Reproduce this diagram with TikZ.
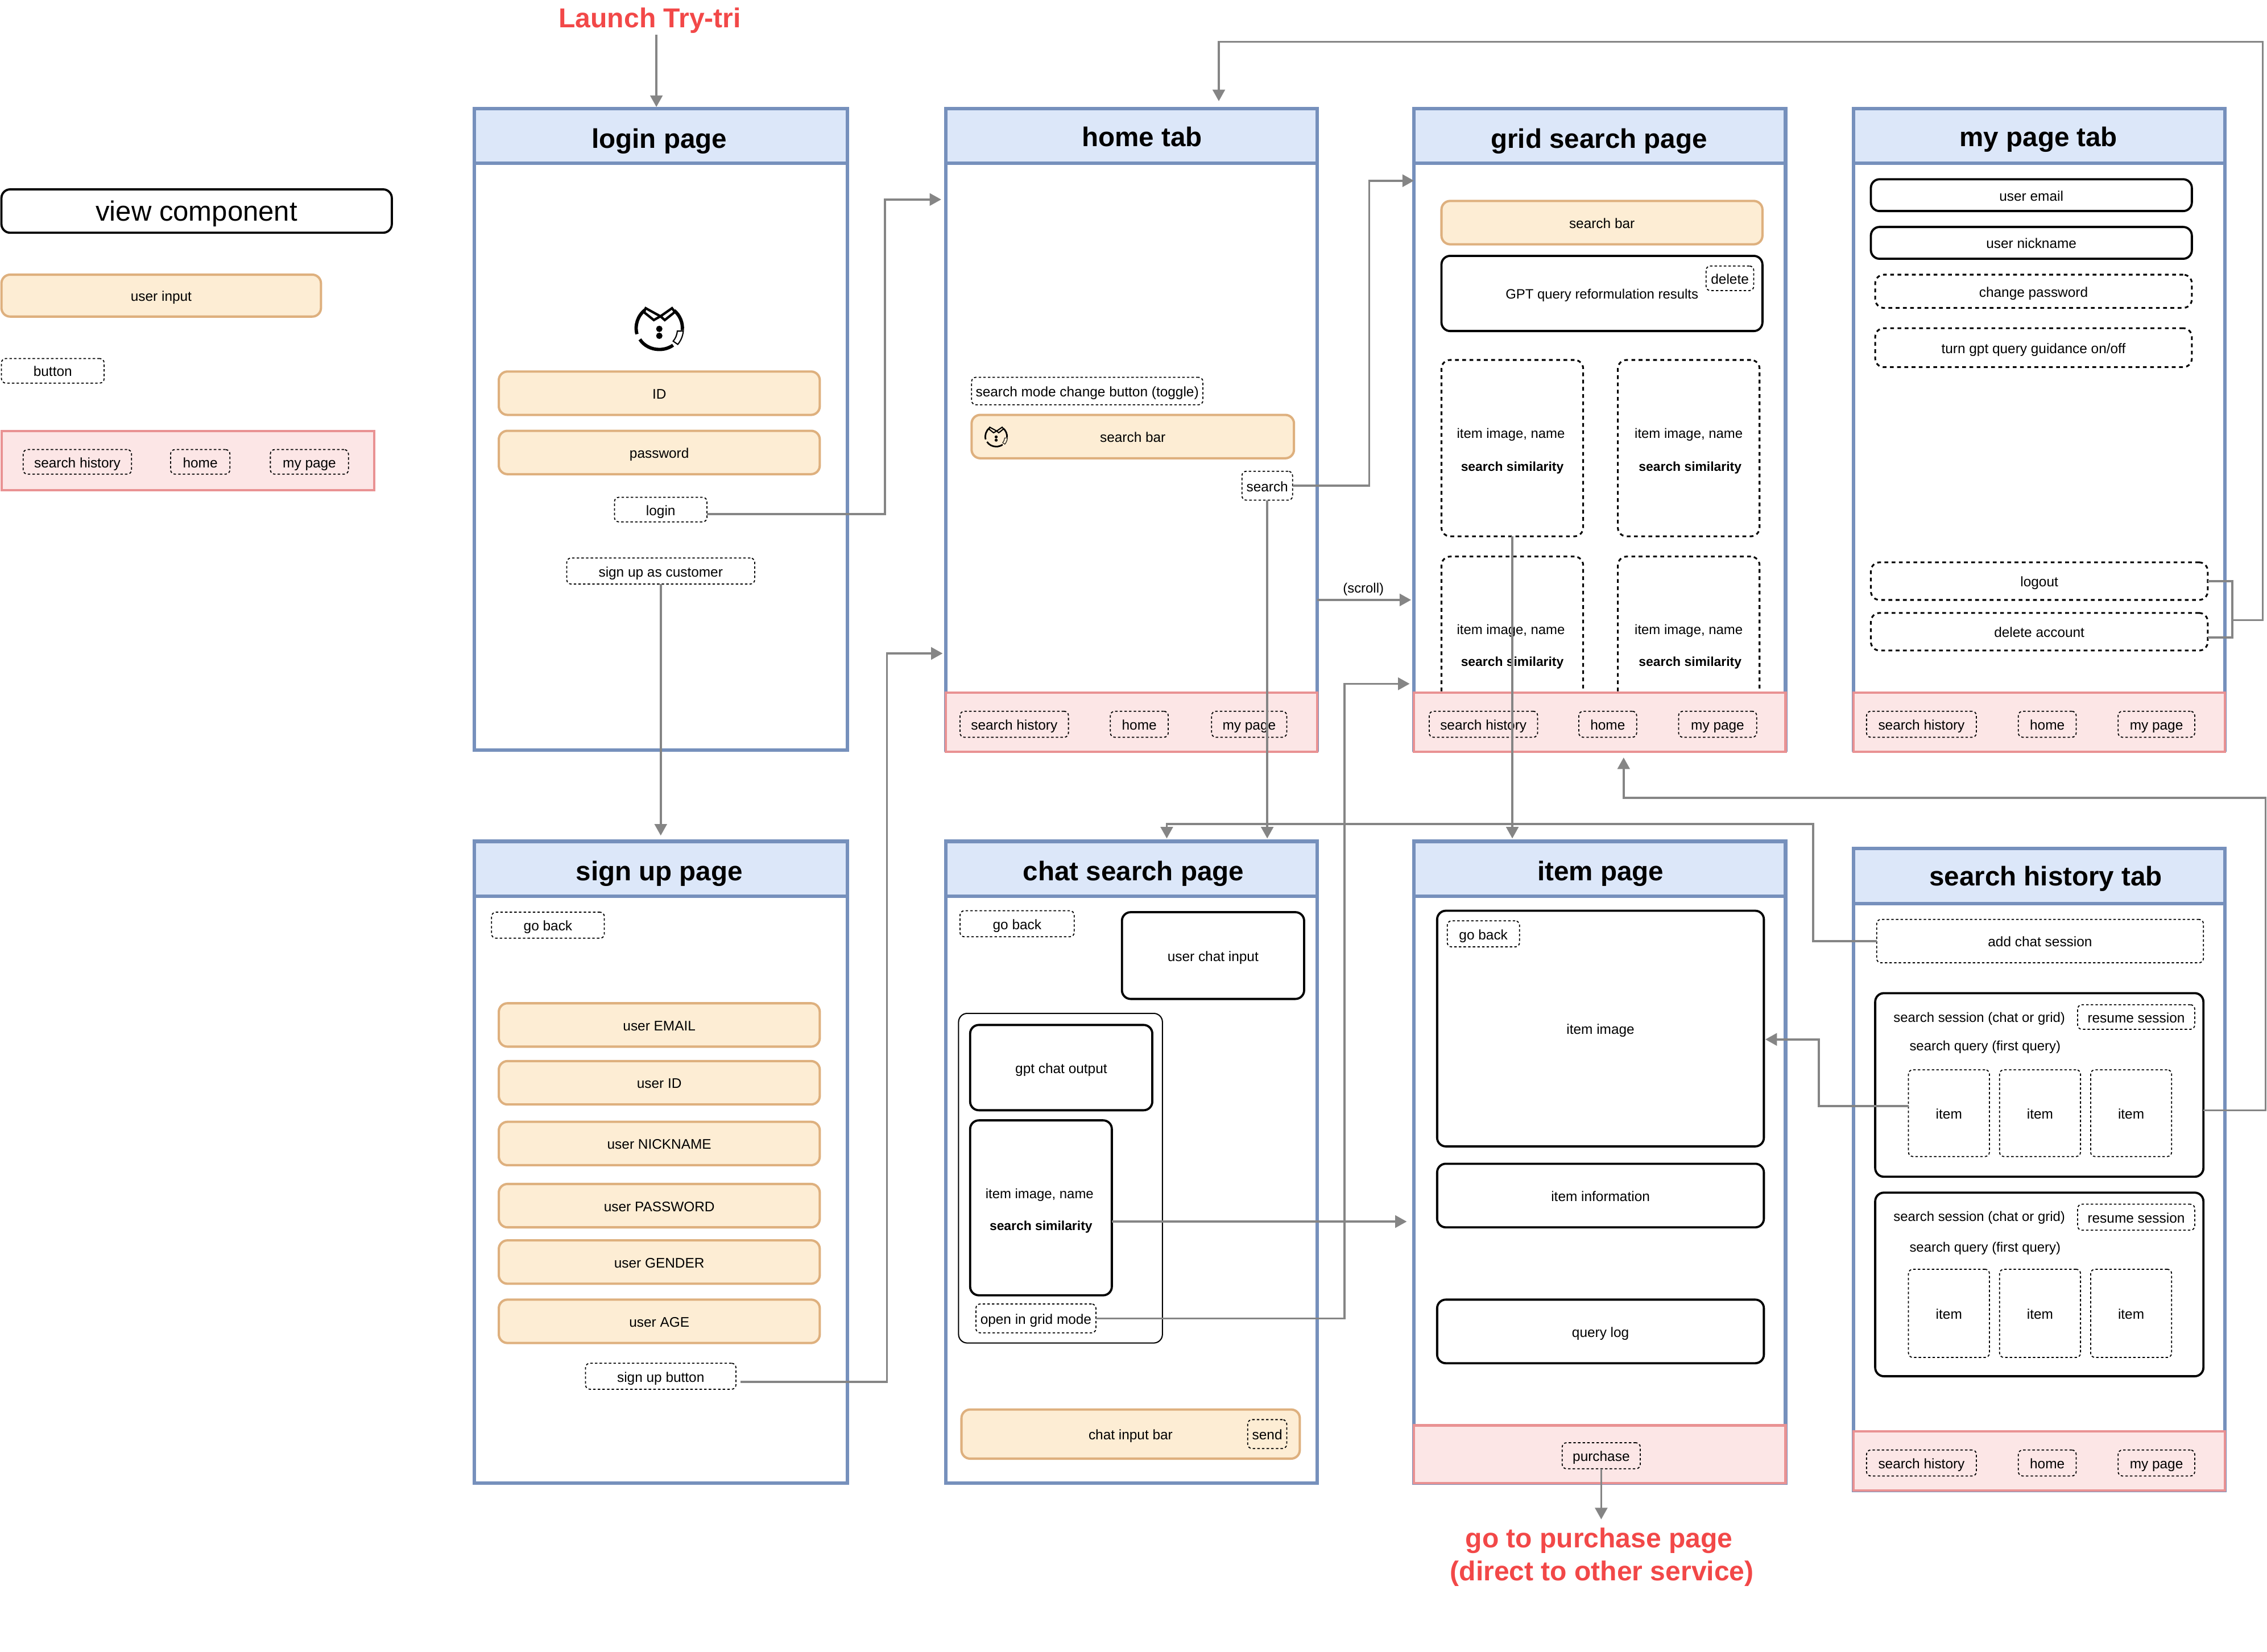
\documentclass[tikz,border=0pt]{standalone}
\usepackage{fontspec}
\setmainfont{Liberation Sans}
\usetikzlibrary{arrows.meta}

\definecolor{headfill}{HTML}{DCE7F9}
\definecolor{frameblue}{HTML}{7690BC}
\definecolor{inputfill}{HTML}{FDEDD4}
\definecolor{inputline}{HTML}{DEB07E}
\definecolor{navfill}{HTML}{FCE6E6}
\definecolor{navline}{HTML}{E99293}
\definecolor{linkgray}{HTML}{858585}
\definecolor{callred}{HTML}{F24848}

\tikzset{
  pageframe/.style={draw=frameblue, line width=2.4pt, fill=white},
  pagehead/.style={draw=frameblue, line width=2.4pt, fill=headfill, minimum width=257, minimum height=38},
  pagetitle/.style={font=\fontsize{18.7}{22}\selectfont\bfseries, text height=14.6pt},
  navbar/.style={draw=navline, line width=1.6pt, fill=navfill, minimum width=257},
  inputbox/.style={draw=inputline, line width=1.6pt, fill=inputfill, rounded corners=6},
  viewbox/.style={draw=black, line width=1.5pt, fill=white, rounded corners=6},
  thinbtn/.style={draw=black, line width=.7pt, dash pattern=on 1.7pt off 1.5pt, rounded corners=3},
  thickbtn/.style={draw=black, line width=1.2pt, dash pattern=on 2.6pt off 2.4pt, rounded corners=6},
  smalltxt/.style={font=\fontsize{9.4}{11}\selectfont},
  simtxt/.style={font=\fontsize{9}{11}\selectfont\bfseries},
  calltxt/.style={font=\fontsize{18.9}{22}\selectfont\bfseries, text=callred, text height=14pt},
  link/.style={draw=linkgray, line width=1.4pt, -{Triangle[length=8pt,width=8.5pt]}},
  linkjoin/.style={draw=linkgray, line width=1.4pt},
  mascot/.pic={
    \draw (0,0) ++(165:16) arc (165:232:16);
    \draw (0,0) ++(150:15.5) arc (150:52:15.5 and 14);
    \draw (0,0) ++(-50:16) arc (-50:5:16);
    \draw[line width=.6\pgflinewidth] (16.6,2) arc (5:40:16.6) -- (9.6,9) arc (40:5:12.5) -- cycle;
    \draw[line width=.85\pgflinewidth, line join=miter] (-9.4,-13.8) -- (.8,-8.2) -- (-3.8,-5.6) -- (-10.8,-11.2) -- cycle;
    \draw[line width=.85\pgflinewidth, line join=miter] (8.8,-13.8) -- (.8,-8.2) -- (3.8,-5.6) -- (10.8,-11.2) -- cycle;
    \fill (0,.5) circle (2.2);
    \fill (0,5.3) circle (2.2);
  }
}

\begin{document}
\begin{tikzpicture}[x=1pt, y=-1pt, every node/.style={font=\fontsize{9.6}{12}\selectfont, inner sep=0pt, outer sep=0pt, text height=7.8pt, text depth=0pt}]
  \useasboundingbox (0,0) rectangle (1568,1142.4);

  % legend on the left
  \node[viewbox, minimum width=270, minimum height=30, font=\fontsize{19.3}{24}\selectfont, text height=14pt] (viewlegend) at (136,146) {view component};
  \node[inputbox, minimum width=221, minimum height=29] (inputlegend) at (111.5,204.5) {user input};
  \node[thinbtn, minimum width=71, minimum height=17] (buttonlegend) at (36.5,256.5) {button};
  \node[navbar, minimum width=258, minimum height=41] (navlegend) at (130,318.5) {};
  \node[thinbtn, minimum width=75, minimum height=17] (legendhist) at (53.5,319.5) {search history};
  \node[thinbtn, minimum width=41, minimum height=17] (legendhome) at (138.5,319.5) {home};
  \node[thinbtn, minimum width=54, minimum height=17] (legendmine) at (214,319.5) {my page};

  \node[calltxt] (launch) at (449.5,12) {Launch Try-tri};

  % login page
  \node[pageframe, minimum width=258, minimum height=444] (loginframe) at (457,297) {};
  \node[pagehead, minimum width=258] (loginhead) at (457,94) {};
  \node[pagetitle] (logintitle) at (456,95) {login page};
  \pic[line width=2.3pt] at (456,227) {mascot};
  \node[inputbox, minimum width=222, minimum height=30] (idfield) at (456,272) {ID};
  \node[inputbox, minimum width=222, minimum height=30] (passfield) at (456,313) {password};
  \node[thinbtn, minimum width=64, minimum height=17] (loginbtn) at (457,352.5) {login};
  \node[thinbtn, minimum width=130, minimum height=18] (customerbtn) at (457,395) {sign up as customer};

  % sign up page
  \node[pageframe, minimum width=258, minimum height=444] (signupframe) at (457,804) {};
  \node[pagehead, minimum width=258] (signuphead) at (457,601) {};
  \node[pagetitle] (signuptitle) at (456,602) {sign up page};
  \node[thinbtn, minimum width=78, minimum height=18] (signupback) at (379,640) {go back};
  \node[inputbox, minimum width=222, minimum height=30] (emailfield) at (456,709) {user EMAIL};
  \node[inputbox, minimum width=222, minimum height=30] (useridfield) at (456,749) {user ID};
  \node[inputbox, minimum width=222, minimum height=30] (nickfield) at (456,791) {user NICKNAME};
  \node[inputbox, minimum width=222, minimum height=30] (pwfield) at (456,834) {user PASSWORD};
  \node[inputbox, minimum width=222, minimum height=30] (genderfield) at (456,873) {user GENDER};
  \node[inputbox, minimum width=222, minimum height=30] (agefield) at (456,914) {user AGE};
  \node[thinbtn, minimum width=104, minimum height=18] (signupbtn) at (457,952) {sign up button};

  % home tab
  \node[pageframe, minimum width=257, minimum height=444] (homeframe) at (782.5,297) {};
  \node[pagehead] (homehead) at (782.5,94) {};
  \node[pagetitle] (hometitle) at (790,94) {home tab};
  \node[thinbtn, minimum width=160, minimum height=19] (togglebtn) at (752,270.5) {search mode change button (toggle)};
  \node[inputbox, minimum width=223, minimum height=30] (homebar) at (783.5,302) {search bar};
  \pic[line width=1.1pt, scale=.47] at (689,302) {mascot};
  \node[thinbtn, minimum width=35, minimum height=20] (searchbtn) at (876.5,336) {search};
  \node[navbar, minimum height=41] (homenav) at (782.5,499.5) {};
  \node[thinbtn, minimum width=75, minimum height=18] (homehist) at (701.5,501) {search history};
  \node[thinbtn, minimum width=40, minimum height=18] (homehome) at (788,501) {home};
  \node[thinbtn, minimum width=52, minimum height=18] (homemine) at (864,501) {my page};

  % grid search page, the lower cards run under the bar
  \node[pageframe, minimum width=257, minimum height=444] (gridframe) at (1106.5,297) {};
  \node[pagehead] (gridhead) at (1106.5,94) {};
  \node[pagetitle] (gridtitle) at (1106,95) {grid search page};
  \node[inputbox, minimum width=222, minimum height=30] (gridbar) at (1108,154) {search bar};
  \node[viewbox, minimum width=222, minimum height=52, smalltxt] (gptbox) at (1108,203) {GPT query reformulation results};
  \node[thinbtn, minimum width=33, minimum height=17] (deletebtn) at (1196.5,192.5) {delete};
  \node[thickbtn, minimum width=98, minimum height=122] (griditema) at (1046,310) {};
  \node[thickbtn, minimum width=98, minimum height=122] (griditemb) at (1168,310) {};
  \node[thickbtn, minimum width=98, minimum height=122] (griditemc) at (1046,446) {};
  \node[thickbtn, minimum width=98, minimum height=122] (griditemd) at (1168,446) {};
  \node[smalltxt] (nameitema) at (1045,299) {item image, name};
  \node[simtxt] (simitema) at (1046,322) {search similarity};
  \node[smalltxt] (nameitemb) at (1168,299) {item image, name};
  \node[simtxt] (simitemb) at (1169,322) {search similarity};
  \node[smalltxt] (nameitemc) at (1045,435) {item image, name};
  \node[simtxt] (simitemc) at (1046,457) {search similarity};
  \node[smalltxt] (nameitemd) at (1168,435) {item image, name};
  \node[simtxt] (simitemd) at (1169,457) {search similarity};
  \node[navbar, minimum height=41] (gridnav) at (1106.5,499.5) {};
  \node[thinbtn, minimum width=75, minimum height=18] (gridhist) at (1026,501) {search history};
  \node[thinbtn, minimum width=40, minimum height=18] (gridhome) at (1112,501) {home};
  \node[thinbtn, minimum width=54, minimum height=18] (gridmine) at (1188,501) {my page};

  % my page tab
  \node[pageframe, minimum width=257, minimum height=444] (mineframe) at (1410.5,297) {};
  \node[pagehead] (minehead) at (1410.5,94) {};
  \node[pagetitle] (minetitle) at (1410,94) {my page tab};
  \node[viewbox, minimum width=222, minimum height=22] (emailbox) at (1405,135) {user email};
  \node[viewbox, minimum width=222, minimum height=22] (nickbox) at (1405,168) {user nickname};
  \node[thickbtn, minimum width=219, minimum height=23] (changebtn) at (1406.5,201.5) {change password};
  \node[thickbtn, minimum width=219, minimum height=27] (guidebtn) at (1406.5,240.5) {turn gpt query guidance on/off};
  \node[thickbtn, minimum width=233, minimum height=26] (logoutbtn) at (1410.5,402) {logout};
  \node[thickbtn, minimum width=233, minimum height=26] (deletebox) at (1410.5,437) {delete account};
  \node[navbar, minimum height=41] (minenav) at (1410.5,499.5) {};
  \node[thinbtn, minimum width=76, minimum height=18] (minehist) at (1329,501) {search history};
  \node[thinbtn, minimum width=40, minimum height=18] (minehome) at (1416,501) {home};
  \node[thinbtn, minimum width=53, minimum height=18] (minemine) at (1491.5,501) {my page};

  % chat search page
  \node[pageframe, minimum width=257, minimum height=444] (chatframe) at (782.5,804) {};
  \node[pagehead] (chathead) at (782.5,601) {};
  \node[pagetitle] (chattitle) at (784,602) {chat search page};
  \node[thinbtn, minimum width=79, minimum height=18] (chatback) at (703.5,639) {go back};
  \node[viewbox, minimum width=126, minimum height=60] (chatinput) at (839,661) {user chat input};
  \node[viewbox, line width=.8pt, minimum width=141, minimum height=228] (chatgroup) at (733.5,815) {};
  \node[viewbox, minimum width=126, minimum height=59] (chatoutput) at (734,738.5) {gpt chat output};
  \node[viewbox, minimum width=98, minimum height=121] (chatitem) at (720,835.5) {};
  \node[smalltxt] (namechat) at (719,825) {item image, name};
  \node[simtxt] (simchat) at (720,847) {search similarity};
  \node[thinbtn, minimum width=83, minimum height=20] (openbtn) at (716.5,912) {open in grid mode};
  \node[inputbox, minimum width=234, minimum height=34] (chatbar) at (782,992) {chat input bar};
  \node[thinbtn, minimum width=27, minimum height=20] (sendbtn) at (876.5,992) {send};

  % item page
  \node[pageframe, minimum width=257, minimum height=444] (itemframe) at (1106.5,804) {};
  \node[pagehead] (itemhead) at (1106.5,601) {};
  \node[pagetitle] (itemtitle) at (1107,602) {item page};
  \node[viewbox, minimum width=226, minimum height=163] (imagebox) at (1107,711.5) {item image};
  \node[thinbtn, minimum width=50, minimum height=18] (itemback) at (1026,646) {go back};
  \node[viewbox, minimum width=226, minimum height=44] (infobox) at (1107,827) {item information};
  \node[viewbox, minimum width=226, minimum height=44] (logbox) at (1107,921) {query log};
  \node[navbar, minimum height=40] (itemnav) at (1106.5,1006) {};
  \node[thinbtn, minimum width=54, minimum height=18] (purchasebtn) at (1107.5,1007) {purchase};
  \node[calltxt] (purchasecall) at (1106,1063.5) {go to purchase page};
  \node[calltxt] (directcall) at (1108,1086.5) {(direct to other service)};

  % search history tab
  \node[pageframe, minimum width=257, minimum height=444] (histframe) at (1410.5,809) {};
  \node[pagehead] (histhead) at (1410.5,606) {};
  \node[pagetitle] (histtitle) at (1415,605.5) {search history tab};
  \node[thinbtn, minimum width=226, minimum height=30] (addchat) at (1411,651) {add chat session};
  \node[viewbox, minimum width=227, minimum height=127] (sessiona) at (1410.5,750.5) {};
  \node[smalltxt] (sessionlabela) at (1369,703) {search session (chat or grid)};
  \node[smalltxt] (querylabela) at (1373,723) {search query (first query)};
  \node[thinbtn, minimum width=81, minimum height=17] (resumea) at (1477.5,703.5) {resume session};
  \node[thinbtn, minimum width=56, minimum height=60] (histitema) at (1348,770) {item};
  \node[thinbtn, minimum width=56, minimum height=60] (histitemb) at (1411,770) {item};
  \node[thinbtn, minimum width=56, minimum height=60] (histitemc) at (1474,770) {item};
  \node[viewbox, minimum width=227, minimum height=127] (sessionb) at (1410.5,888.5) {};
  \node[smalltxt] (sessionlabelb) at (1369,841) {search session (chat or grid)};
  \node[smalltxt] (querylabelb) at (1373,862) {search query (first query)};
  \node[thinbtn, minimum width=81, minimum height=18] (resumeb) at (1477.5,842) {resume session};
  \node[thinbtn, minimum width=56, minimum height=61] (histitemd) at (1348,908.5) {item};
  \node[thinbtn, minimum width=56, minimum height=61] (histiteme) at (1411,908.5) {item};
  \node[thinbtn, minimum width=56, minimum height=61] (histitemf) at (1474,908.5) {item};
  \node[navbar, minimum height=41] (histnav) at (1410.5,1010.5) {};
  \node[thinbtn, minimum width=76, minimum height=18] (histhist) at (1329,1012) {search history};
  \node[thinbtn, minimum width=40, minimum height=18] (histhome) at (1416,1012) {home};
  \node[thinbtn, minimum width=53, minimum height=18] (histmine) at (1491.5,1012) {my page};

  % free ends of the arrows
  \coordinate (loginin) at (454,74);
  \coordinate (homeupper) at (651,138);
  \coordinate (homelower) at (652,452);
  \coordinate (signupin) at (457,578);
  \coordinate (gridupper) at (978,125);
  \coordinate (gridmiddle) at (976,415);
  \coordinate (gridlower) at (975,473);
  \coordinate (chatin) at (876.5,580);
  \coordinate (itemin) at (1046,580);
  \coordinate (itemleft) at (973,845);
  \coordinate (itemright) at (1221,719);
  \coordinate (purchaseout) at (1107.5,1051);
  \coordinate (chatbend) at (807,570);
  \coordinate (chatback) at (807,580);
  \coordinate (gridbend) at (1123,552);
  \coordinate (gridbelow) at (1123,524);
  \coordinate (accountjoin) at (1565,429);
  \coordinate (homebend) at (843,29);
  \coordinate (hometop) at (843,70);

  \node[smalltxt] (scrolllabel) at (943,406) {(scroll)};
  \draw[link] ([xshift=4.5pt,yshift=-5pt]launch.south) -- (loginin);
  \draw[link] ([yshift=-3pt]loginbtn.east) -- ++(123,0) |- (homeupper);
  \draw[link] (customerbtn.south) -- (signupin);
  \draw[link] ([xshift=3pt,yshift=-4pt]signupbtn.east) -- ++(101.5,0) |- (homelower);
  \draw[link] (searchbtn.east) -- ++(53,0) |- (gridupper);
  \draw[link] (searchbtn.south) -- (chatin);
  \draw[link] ([yshift=-118pt]homeframe.east) -- (gridmiddle);
  \draw[link] (openbtn.east) -- ++(172,0) |- (gridlower);
  \draw[link] ([yshift=-9.5pt]chatitem.east) -- (itemleft);
  \draw[link] (griditema.south) -- (itemin);
  \draw[link] (purchasebtn.south) -- (purchaseout);
  \draw[link] (addchat.west) -- ++(-44,0) |- (chatbend) -- (chatback);
  \draw[link] ([yshift=5pt]histitema.west) -- ++(-62,0) |- (itemright);
  \draw[link] ([yshift=-17.5pt]sessiona.east) -- ++(43,0) |- (gridbend) -- (gridbelow);
  \draw[link] (logoutbtn.east) -- ++(17,0) |- (accountjoin) |- (homebend) -- (hometop);
  \draw[linkjoin] ([yshift=-4pt]deletebox.east) -- ++(17,0) |- (accountjoin);
\end{tikzpicture}
\end{document}
